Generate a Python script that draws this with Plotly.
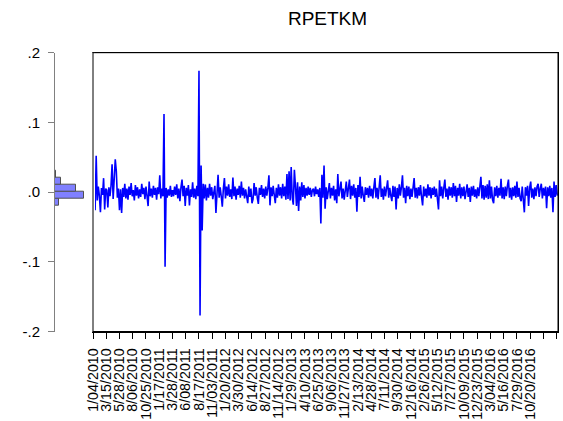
import plotly.graph_objects as go

# ---- data (returns, in thousandths; one value per 4 observations) ----
STEP = 4
seg0 = [3, -8, -26, 52, -12, 8, -5, -29, 6, -4, 20, -25, 5, 3, -22, 7, -6, 9, 40, -10, 15, 47,
        30, -8, 5, -26, 4, -30, 6, -7, 12, -9, 5, -11, 8, -4, 13, -6, 3, -12, 10, -5, 7, -9]
seg1 = [4, -7, 12, -3, 6, -10, 8, -5, -20, 15, -6, 5, -8, 9, -4, 6, -11, 7, -3, 24, -9, 5,
        -6, 112, -107, 6, -8, 4, -5, 9, -7, 3, -6, 8, -4, 11, -9, 5, -13, 7, 18, -6, 9, -20]
seg2 = [6, -5, 10, -19, 4, -7, 14, -8, 5, -10, 9, -6, 174, -177, 38, -55, 12, -9, 11, -12, 6, -8,
        12, -5, 7, -10, 4, 9, -30, 6, 25, -8, 7, -6, -21, 5, 20, -9, 8, -5, 11, -7, 4, -10]
seg3 = [21, -6, 8, -11, 5, -4, 9, -8, 15, -5, 6, -9, 4, -6, -16, 8, -7, 5, -16, -10, 13, -5,
        7, -8, -17, 6, -4, 10, -7, 5, -9, 8, -5, 6, 24, -19, 7, -6, 9, -4, -16, 6, -8, 11]
seg4 = [-5, 7, -9, 12, -6, 8, -11, 26, -10, 30, -12, 36, -8, -18, 32, 9, -20, 14, -27, 8, -12, 14,
        -7, 10, -9, 6, -5, 8, -4, 6, -7, 3, 5, -6, 8, -3, 4, -7, 6, -45, 25, -8, 38, -24]
seg5 = [7, -10, 5, 13, -9, 6, -5, 9, -12, 4, -16, 26, -6, 7, 15, -9, 5, -11, 8, 15, -7, 6,
        18, -10, 9, -5, 11, -8, 6, -28, 10, -7, 22, -9, 8, -5, -14, 7, -4, 6, -8, 9, -6, 5]
seg6 = [-9, 7, 20, -8, 6, -10, 9, 24, -7, 5, -11, 8, -6, 10, 17, -8, 6, -5, -13, 9, -7, 8,
        -25, 6, -9, 11, -5, 7, 24, -8, 6, -16, 9, -6, 8, -10, 5, -7, 9, 20, -8, 6, -9, 7]
seg7 = [-5, 10, -7, -19, 8, -6, 5, -8, 11, -5, 7, -9, 6, -4, 8, -7, 5, -10, -25, 17, -6, 8,
        -9, 6, 18, -7, 5, -11, 8, -5, 7, -8, 13, -6, 9, -14, 6, -5, 12, -9, 7, -6, 8, -10]
seg8 = [5, 11, -7, 6, -14, 8, -5, 9, -7, 4, -9, 7, -6, 8, 22, -9, 10, -11, 9, -8, 11, -10,
        17, -9, 8, -11, -16, 7, -6, 9, -8, 6, -5, 19, -9, 7, -10, 8, -6, 9, 18, -8, 6, -11]
seg9 = [7, -6, 9, -8, 15, -7, 6, -9, -13, 8, -6, -29, 7, -5, 9, -20, 6, 15, -8, 5, -10, 7,
        -6, 8, 12, -7, 5, 12, -9, 6, -5, 8, -23, 7, -6, 9, -8, 6, -29, 15, -7, 10, -5]

tick_labels = ["1/04/2010", "3/15/2010", "5/28/2010", "8/06/2010", "10/25/2010", "1/17/2011",
               "3/28/2011", "6/08/2011", "8/17/2011", "11/03/2011", "1/20/2012", "3/30/2012",
               "6/14/2012", "8/27/2012", "11/14/2012", "1/29/2013", "4/10/2013", "6/25/2013",
               "9/06/2013", "11/27/2013", "2/13/2014", "4/28/2014", "7/11/2014", "9/30/2014",
               "12/16/2014", "2/26/2015", "5/12/2015", "7/27/2015", "10/09/2015", "12/23/2015",
               "3/04/2016", "5/16/2016", "7/29/2016", "10/20/2016", "", ""]
TICK_EVERY = 50
N_OBS = 1755

hist_centers = [-0.035, -0.025, -0.015, -0.005, 0.005, 0.015, 0.025, 0.035]
hist_counts = [6, 12, 110, 770, 552, 150, 14, 6]

y_ticks = [-0.2, -0.1, 0.0, 0.1, 0.2]
y_tick_text = ["-.2", "-.1", ".0", ".1", ".2"]

# ---- build ----
vals = []
for s in (seg0, seg1, seg2, seg3, seg4, seg5, seg6, seg7, seg8, seg9):
    vals.extend(v / 1000.0 for v in s)
xs = [i * STEP for i in range(len(vals))]

W, H = 563, 421
FONT = "Arial, Liberation Sans, sans-serif"
ydom = [1 - 331.5 / H, 1 - 52.7 / H]

fig = go.Figure()
fig.add_trace(go.Scatter(x=xs, y=vals, mode="lines",
                         line=dict(color="#0000FF", width=1.6),
                         xaxis="x", yaxis="y", showlegend=False, hoverinfo="skip"))
fig.add_trace(go.Bar(y=hist_centers, x=hist_counts, orientation="h", width=0.01,
                     marker=dict(color="#8080FF", line=dict(color="#505050", width=1)),
                     xaxis="x2", yaxis="y2", showlegend=False, hoverinfo="skip"))

fig.update_layout(
    template="none",
    width=W, height=H,
    margin=dict(l=0, r=0, t=0, b=0, autoexpand=False),
    paper_bgcolor="white", plot_bgcolor="white",
    font=dict(family=FONT, color="black", size=15),
    title=dict(text="RPETKM", x=327.5 / W, y=1 - 18.7 / H, xanchor="center", yanchor="middle",
               font=dict(size=19, family=FONT, color="black")),
    bargap=0,
    xaxis=dict(domain=[93 / W, 558 / W], range=[0, N_OBS], anchor="y", automargin=False,
               tickmode="array", tickvals=[i * TICK_EVERY for i in range(len(tick_labels))],
               ticktext=tick_labels, tickangle=-90, ticks="outside", ticklen=6,
               ticklabelstandoff=4,
               tickcolor="black", showline=True, linecolor="black", linewidth=1, mirror=True,
               showgrid=False, zeroline=False, tickfont=dict(size=14.3)),
    yaxis=dict(domain=ydom, range=[-0.2, 0.2], anchor="x", showticklabels=False,
               automargin=False,
               showline=True, linecolor="black", linewidth=1, mirror="all",
               showgrid=False, zeroline=False, ticks=""),
    xaxis2=dict(domain=[55 / W, 95 / W], range=[0, 770 * 40 / 29.3], anchor="y2",
                visible=False, automargin=False),
    yaxis2=dict(domain=ydom, range=[-0.2, 0.2], anchor="x2", side="left", automargin=False,
                tickmode="array", tickvals=y_ticks, ticktext=y_tick_text,
                ticks="outside", ticklen=6, tickcolor="#808080", ticklabelstandoff=5,
                showline=True, linecolor="#808080", linewidth=1,
                showgrid=False, zeroline=False, tickfont=dict(size=15)),
    shapes=[dict(type="rect", xref="x domain", yref="y domain", x0=0, x1=1, y0=0, y1=1,
                 line=dict(color="black", width=1), fillcolor="rgba(0,0,0,0)", layer="above")],
)

fig.write_html("out.html")
